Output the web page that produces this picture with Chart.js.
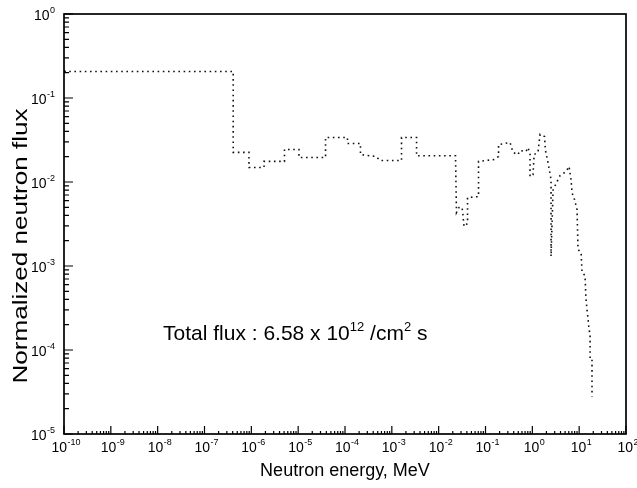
<!DOCTYPE html>
<html><head><meta charset="utf-8">
<script src="https://cdn.jsdelivr.net/npm/chart.js@4/dist/chart.umd.min.js"></script>
<style>html,body{margin:0;padding:0;background:#fff}#wrap{width:637px;height:488px}</style>
</head><body><div id="wrap"><canvas id="c" width="637" height="488"></canvas></div>
<script>
// ---- data ----
const energyMeV = [
  1e-10, 4.1e-7, 4.1e-7, 8.9e-7, 8.9e-7, 1.87e-6, 1.87e-6, 5.1e-6, 5.1e-6, 1.04e-5,
  1.04e-5, 3.84e-5, 3.84e-5, 1.13e-4, 1.13e-4, 2.14e-4, 2.14e-4, 4.6e-4, 5.6e-4, 1.61e-3,
  1.61e-3, 3.37e-3, 3.37e-3, 2.29e-2, 2.4e-2, 2.72e-2, 3.16e-2, 3.3e-2, 3.47e-2, 4.13e-2,
  4.13e-2, 7.1e-2, 7.1e-2, 0.152, 0.19, 0.19, 0.334, 0.387, 0.495, 0.546,
  0.733, 0.81, 0.893, 0.893, 1.035, 1.09, 1.32, 1.46, 1.82, 1.9,
  2.16, 2.51, 2.51, 2.77, 3.3, 3.9, 5.25, 6.08, 6.7, 7.05,
  7.77, 9.0, 9.46, 11.0, 11.5, 13.3, 14.0, 16.3, 17.1, 17.1,
  18.8, 18.8
];
const normalizedFlux = [
  0.207, 0.207, 0.0225, 0.0225, 0.0149, 0.0149, 0.0176, 0.0176, 0.0244, 0.0244,
  0.0196, 0.0196, 0.0339, 0.0339, 0.0287, 0.0287, 0.0212, 0.0201, 0.018, 0.018,
  0.0339, 0.0339, 0.0205, 0.0205, 4.33e-3, 4.97e-3, 4.97e-3, 4.1e-3, 2.95e-3, 3.2e-3,
  6.53e-3, 6.7e-3, 0.0176, 0.0185, 0.0201, 0.0279, 0.0295, 0.0225, 0.0212, 0.0237,
  0.0231, 0.0257, 0.0212, 0.0116, 0.0123, 0.0212, 0.0225, 0.0368, 0.0348, 0.024,
  0.0171, 0.0107, 1.3e-3, 8.0e-3, 9.87e-3, 0.0119, 0.0133, 0.0153, 0.0107, 7.4e-3,
  6.5e-3, 4.7e-3, 1.57e-3, 1.45e-3, 8.4e-4, 7.7e-4, 4.0e-4, 1.75e-4, 1.53e-4, 7.7e-5,
  7.7e-5, 2.8e-5
];
const xTickExponents = [-10, -9, -8, -7, -6, -5, -4, -3, -2, -1, 0, 1, 2];
const yTickExponents = [-5, -4, -3, -2, -1, 0];
const xTitle = 'Neutron energy, MeV';
const yTitle = 'Normalized neutron flux';
const noteParts = [['Total flux : 6.58 x 10', false], ['12', true], [' /cm', false], ['2', true], [' s', false]];
const noteAnchor = { energy: 1.3e-8, flux: 1.33e-4 };

const FONT = "'Liberation Sans', Arial, sans-serif";

function drawPower(ctx, exp, px, py, align) {
  ctx.font = '14px ' + FONT;
  const wb = ctx.measureText('10').width;
  ctx.font = '9px ' + FONT;
  const ws = ctx.measureText(String(exp)).width;
  const w = wb + ws + 0.5;
  let x0 = align === 'center' ? px - w / 2 + 2 : px - w;
  ctx.font = '14px ' + FONT;
  ctx.fillText('10', x0, py);
  ctx.font = '9px ' + FONT;
  ctx.fillText(String(exp), x0 + wb + 0.5, py - 7);
}

const framePlugin = {
  id: 'frame',
  afterDatasetsDraw(chart) {
    const {ctx, chartArea: a, scales: {x, y}} = chart;
    ctx.save();
    ctx.strokeStyle = '#000';
    ctx.lineWidth = 1.7;
    ctx.strokeRect(a.left, a.top, a.right - a.left, a.bottom - a.top);
    ctx.beginPath();
    ctx.lineWidth = 1.2;
    const yMin = yTickExponents[0], yMax = yTickExponents[yTickExponents.length - 1];
    for (let e = yMin; e <= yMax; e++) {
      for (let m = 1; m <= 9; m++) {
        if (e === yMax && m > 1) break;
        const py = y.getPixelForValue(m * Math.pow(10, e));
        const len = m === 1 ? 9 : 5;
        ctx.moveTo(a.left, py); ctx.lineTo(a.left + len, py);
      }
    }
    const xMin = xTickExponents[0], xMax = xTickExponents[xTickExponents.length - 1];
    for (let e = xMin; e <= xMax; e++) {
      for (let m = 1; m <= 9; m++) {
        if (e === xMax && m > 1) break;
        const px = x.getPixelForValue(m * Math.pow(10, e));
        const len = m === 1 ? 8 : 3;
        ctx.moveTo(px, a.bottom); ctx.lineTo(px, a.bottom - len);
      }
    }
    ctx.stroke();
    // tick labels
    ctx.fillStyle = '#000';
    ctx.textBaseline = 'alphabetic';
    ctx.textAlign = 'left';
    for (const e of xTickExponents) {
      drawPower(ctx, e, x.getPixelForValue(Math.pow(10, e)), a.bottom + 18, 'center');
    }
    for (const e of yTickExponents) {
      drawPower(ctx, e, a.left - 9, y.getPixelForValue(Math.pow(10, e)) + 6, 'right');
    }
    // y axis title (the scanned original is stretched along its length)
    ctx.save();
    ctx.translate(27, 246);
    ctx.rotate(-Math.PI / 2);
    ctx.scale(1.24, 1);
    ctx.font = '21px ' + FONT;
    ctx.textAlign = 'center';
    ctx.fillText(yTitle, 0, 0);
    ctx.restore();
    // annotation
    let px = x.getPixelForValue(noteAnchor.energy);
    const py = y.getPixelForValue(noteAnchor.flux);
    for (const [t, isSup] of noteParts) {
      ctx.font = (isSup ? '13px ' : '21px ') + FONT;
      ctx.fillText(t, px, isSup ? py - 9 : py);
      px += ctx.measureText(t).width;
    }
    ctx.restore();
  }
};

new Chart(document.getElementById('c'), {
  type: 'line',
  data: {
    datasets: [{
      data: energyMeV.map((e, i) => ({x: e, y: normalizedFlux[i]})),
      borderColor: '#111',
      borderWidth: 1.6,
      borderDash: [1.6, 3.6],
      pointRadius: energyMeV.map((e, i) => i === 0 ? 1.6 : 0),
      pointBackgroundColor: '#000',
      pointBorderWidth: 0,
      tension: 0,
      fill: false
    }]
  },
  options: {
    responsive: false,
    animation: false,
    devicePixelRatio: 1,
    layout: { padding: { top: 14, right: 11, left: 0, bottom: 0 } },
    plugins: { legend: { display: false }, tooltip: { enabled: false } },
    scales: {
      x: {
        type: 'logarithmic',
        min: 1e-10, max: 100,
        afterBuildTicks: s => { s.ticks = xTickExponents.map(e => ({value: Math.pow(10, e)})); },
        afterFit: s => { s.height = 54; },
        grid: { display: false, drawTicks: false },
        border: { display: false },
        ticks: { display: false },
        title: { display: true, text: xTitle, color: '#000', font: { family: FONT, size: 18 }, padding: { top: 0, bottom: 6 } }
      },
      y: {
        type: 'logarithmic',
        min: 1e-5, max: 1,
        afterBuildTicks: s => { s.ticks = yTickExponents.map(e => ({value: Math.pow(10, e)})); },
        afterFit: s => { s.width = 64; },
        grid: { display: false, drawTicks: false },
        border: { display: false },
        ticks: { display: false },
        title: { display: false }
      }
    }
  },
  plugins: [framePlugin]
});
</script>
</body></html>
